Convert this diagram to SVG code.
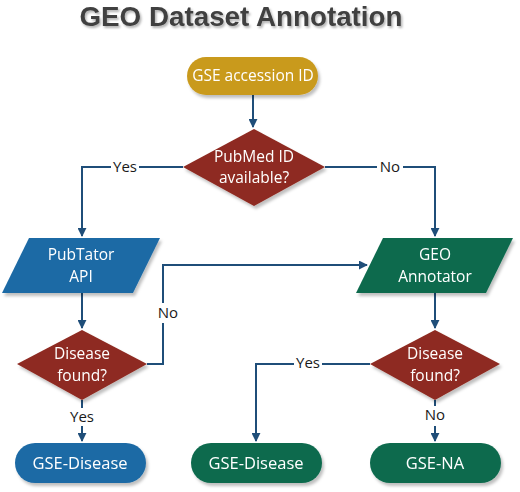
<svg xmlns="http://www.w3.org/2000/svg" width="520" height="492" viewBox="0 0 520 492">
<defs>
<filter id="sh" x="-20%" y="-20%" width="140%" height="150%">
<feDropShadow dx="2" dy="3" stdDeviation="1.5" flood-color="#000" flood-opacity="0.25"/>
</filter>
<filter id="tsh" x="-10%" y="-30%" width="120%" height="160%">
<feDropShadow dx="1.5" dy="2" stdDeviation="1.2" flood-color="#000" flood-opacity="0.3"/>
</filter>
<marker id="arr" viewBox="0 0 10 10" refX="9" refY="5" markerWidth="4.5" markerHeight="4.5" orient="auto" markerUnits="strokeWidth">
<path d="M0,0 L10,5 L0,10 Z" fill="#1f4e79"/>
</marker>
<style>
.t{font-family:"Open Sans","Noto Sans",sans-serif;font-size:15.5px;fill:#fff;text-anchor:middle}
.b{font-size:16.5px}
.lbl{font-family:"Open Sans","Noto Sans",sans-serif;font-size:15px;fill:#1a1a1a;text-anchor:middle}
.c{fill:none;stroke:#1f4e79;stroke-width:2}
.gold{fill:#c99a1d}
.red{fill:#8e2a20}
.blue{fill:#1f6ba5}
.green{fill:#0d6b4e}
</style>
</defs>
<text x="241" y="26" font-family="'Liberation Sans',Arial,sans-serif" font-weight="bold" font-size="27" fill="#404040" text-anchor="middle" textLength="323" lengthAdjust="spacingAndGlyphs" filter="url(#tsh)">GEO Dataset Annotation</text>

<g id="connectors">
<path class="c" d="M253,95 V127" marker-end="url(#arr)"/>
<path class="c" d="M183,167 H82 V236" marker-end="url(#arr)"/>
<path class="c" d="M325,167 H435 V236" marker-end="url(#arr)"/>
<path class="c" d="M82,293 V328" marker-end="url(#arr)"/>
<path class="c" d="M435,293 V328" marker-end="url(#arr)"/>
<path class="c" d="M147,364 H163 V265 H367" marker-end="url(#arr)"/>
<path class="c" d="M82,400 V408"/>
<path class="c" d="M82,426 V441" marker-end="url(#arr)"/>
<path class="c" d="M435,400 V406"/>
<path class="c" d="M435,426 V441" marker-end="url(#arr)"/>
<path class="c" d="M370,364 H256 V441" marker-end="url(#arr)"/>
<rect x="111" y="158" width="28" height="18" fill="#fff"/>
<text class="lbl" x="125" y="172">Yes</text>
<rect x="377" y="158" width="26" height="18" fill="#fff"/>
<text class="lbl" x="390" y="172">No</text>
<rect x="153" y="303" width="20" height="20" fill="#fff"/>
<text class="lbl" x="168" y="318">No</text>
<text class="lbl" x="82" y="422">Yes</text>
<text class="lbl" x="435" y="420">No</text>
<rect x="294" y="354" width="28" height="18" fill="#fff"/>
<text class="lbl" x="308" y="368">Yes</text>
</g>

<g id="start" filter="url(#sh)">
<rect class="gold" x="187" y="57" width="131" height="38" rx="19"/>
<text class="t" x="253" y="81">GSE accession ID</text>
</g>

<g id="pubmed" filter="url(#sh)">
<polygon class="red" points="254,129 325,167 254,206 183,167"/>
<text class="t" x="254" y="162">PubMed ID</text>
<text class="t" x="254" y="183">available?</text>
</g>

<g id="pubtator" filter="url(#sh)">
<polygon class="blue" points="29,238 160,238 133,293 2,293"/>
<text class="t" x="81" y="260">PubTator</text>
<text class="t" x="81" y="282">API</text>
</g>

<g id="geoannotator" filter="url(#sh)">
<polygon class="green" points="383,238 513,238 486,293 356,293"/>
<text class="t" x="435" y="260">GEO</text>
<text class="t" x="435" y="282">Annotator</text>
</g>

<g id="disease1" filter="url(#sh)">
<polygon class="red" points="82,330 147,364 82,400 17,364"/>
<text class="t" x="82" y="359">Disease</text>
<text class="t" x="82" y="381">found?</text>
</g>

<g id="disease2" filter="url(#sh)">
<polygon class="red" points="435,330 500,364 435,400 370,364"/>
<text class="t" x="435" y="359">Disease</text>
<text class="t" x="435" y="381">found?</text>
</g>

<g id="gse-disease-blue" filter="url(#sh)">
<rect class="blue" x="15" y="443" width="131" height="40" rx="20"/>
<text class="t b" x="80" y="469">GSE-Disease</text>
</g>

<g id="gse-disease-green" filter="url(#sh)">
<rect class="green" x="191" y="443" width="131" height="40" rx="20"/>
<text class="t b" x="256" y="469">GSE-Disease</text>
</g>

<g id="gse-na" filter="url(#sh)">
<rect class="green" x="370" y="443" width="131" height="40" rx="20"/>
<text class="t b" x="435" y="469">GSE-NA</text>
</g>
</svg>
